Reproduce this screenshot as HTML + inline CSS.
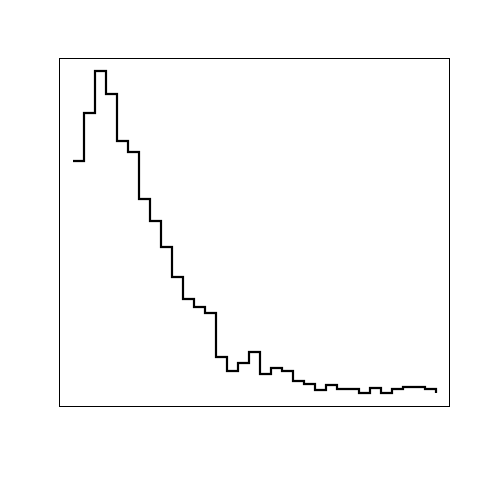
<!DOCTYPE html>
<html><head><meta charset="utf-8"><style>html,body{margin:0;padding:0;background:#fff;}svg{display:block;}</style></head>
<body>
<svg id="chart" width="480" height="480">
<rect x="59.5" y="58.5" width="390" height="348" fill="none" stroke="#000" stroke-width="1"/>
</svg>
<script>
const counts = [239,287,329,306,259,248,201,179,153,123,101,93,87,43,29,37,48,26,32,29,19,16,10,15,11,11,7,12,7,11,13,13,11,7];
const indices = counts.map((_, i) => i);
const xScale = i => 73 + i * (436 - 73) / (counts.length - 1);
const vmin = Math.min(...counts), vmax = Math.max(...counts);
const yScale = v => 393 - (v - vmin) * (393 - 71) / (vmax - vmin);
let d = '';
indices.forEach((i, k) => {
  const x = xScale(i), y = yScale(counts[i]);
  if (k === 0) d += 'M' + x + ',' + y;
  else d += 'H' + x + 'V' + y;
});
const p = document.createElementNS('http://www.w3.org/2000/svg', 'path');
p.setAttribute('d', d);
p.setAttribute('fill', 'none');
p.setAttribute('stroke', '#000');
p.setAttribute('stroke-width', '2.2');


document.getElementById('chart').appendChild(p);
</script>
</body></html>
